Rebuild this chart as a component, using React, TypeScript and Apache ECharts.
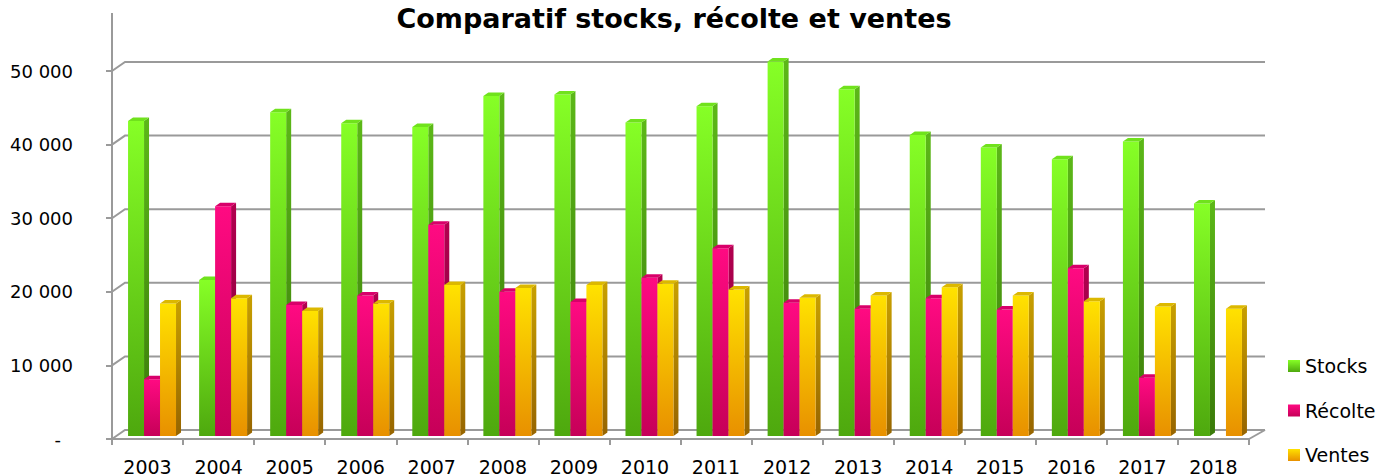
import React, { useEffect, useRef } from "react";
import * as echarts from "echarts";

const YEARS = ["2003","2004","2005","2006","2007","2008","2009","2010","2011","2012","2013","2014","2015","2016","2017","2018"];
const STOCKS = [42800, 21200, 44000, 42500, 42000, 46200, 46400, 42600, 44800, 50900, 47100, 40900, 39200, 37600, 40000, 31600];
const RECOLTE = [7700, 31200, 17800, 19100, 28700, 19600, 18200, 21500, 25500, 18100, 17300, 18700, 17200, 22800, 7900, null];
const VENTES = [18000, 18700, 17000, 18000, 20500, 20100, 20500, 20700, 19900, 18800, 19100, 20200, 19100, 18300, 17600, 17300];
const Y_TICKS = [0, 10000, 20000, 30000, 40000, 50000];
const SERIES_NAMES = ["Stocks", "Récolte", "Ventes"];

const FONT = "'DejaVu Sans', sans-serif";
const DEPTH_X = 13, DEPTH_Y = 9;
const MID_X = 4.5, MID_Y = 3;
const BAR_DX = 5, BAR_DY = 3.5;
const GRID_COLOR = "#9a9a9a";

const PALETTE = [
  { front: ["#86ff26", "#4ea80e"], side: ["#5cb818", "#3a7a0a"], top: "#70e21c" },
  { front: ["#ff0a82", "#c60058"], side: ["#b2004f", "#80003a"], top: "#d8006a" },
  { front: ["#ffe200", "#e89000"], side: ["#c8a000", "#966400"], top: "#dcb800" },
];

const grad = (c: string[]) =>
  new echarts.graphic.LinearGradient(0, 0, 0, 1, [
    { offset: 0, color: c[0] },
    { offset: 1, color: c[1] },
  ]);

const makeBarRender = (k: number) => (params: any, api: any) => {
  const idx = api.value(0);
  const v = api.value(1);
  if (v == null || isNaN(v)) return null;
  const base = api.coord([idx, 0]);
  const top = api.coord([idx, v]);
  const bw = api.size([1, 0])[0];
  const w = bw * 0.225;
  const x = base[0] - 1.5 * w + MID_X + k * w;
  const yb = base[1] - MID_Y;
  const yt = top[1] - MID_Y;
  const p = PALETTE[k];
  return {
    type: "group",
    children: [
      {
        type: "polygon",
        shape: { points: [[x + w, yt], [x + w + BAR_DX, yt - BAR_DY], [x + w + BAR_DX, yb - BAR_DY], [x + w, yb]] },
        style: { fill: grad(p.side) },
      },
      {
        type: "rect",
        shape: { x, y: yt, width: w, height: yb - yt },
        style: { fill: grad(p.front) },
      },
      {
        type: "polygon",
        shape: { points: [[x, yt], [x + BAR_DX, yt - BAR_DY], [x + w + BAR_DX, yt - BAR_DY], [x + w, yt]] },
        style: { fill: p.top },
      },
    ],
  };
};

const wallRender = (params: any, api: any) => {
  const cs = params.coordSys;
  const v = api.value(1);
  const y = api.coord([0, v])[1];
  const x0 = cs.x;
  const x1 = cs.x + cs.width;
  const st = { stroke: GRID_COLOR, lineWidth: 2, fill: "none" };
  const children: any[] = [
    { type: "polyline", shape: { points: [[x0, y], [x0 + DEPTH_X, y - DEPTH_Y], [x1 + DEPTH_X + 3, y - DEPTH_Y]] }, style: st },
  ];
  if (v === 0) {
    children.push({ type: "line", shape: { x1: x1 + DEPTH_X + 3, y1: y - DEPTH_Y, x2: x1, y2: y }, style: st });
    children.push({ type: "line", shape: { x1: x0, y1: cs.y - 58, x2: x0, y2: cs.y }, style: st });
  }
  return { type: "group", children };
};

export default function App() {
  const ref = useRef<HTMLDivElement>(null);
  useEffect(() => {
    document.body.style.margin = "0";
    const chart = echarts.init(ref.current!, null, { renderer: "svg" });
    const dataSets = [STOCKS, RECOLTE, VENTES];
    chart.setOption({
      animation: false,
      backgroundColor: "#ffffff",
      graphic: [
        {
          type: "text",
          x: 674,
          y: 5,
          style: {
            text: "Comparatif stocks, récolte et ventes",
            font: `bold 27px ${FONT}`,
            fill: "#000",
            align: "center",
            verticalAlign: "top",
          },
        },
      ],
      grid: { left: 112, top: 71, right: 134, bottom: 36, containLabel: false },
      legend: {
        orient: "vertical",
        left: 1283,
        top: 351,
        icon: "rect",
        itemWidth: 12,
        itemHeight: 12,
        itemGap: 24.5,
        textStyle: { fontFamily: FONT, fontSize: 19, color: "#000", lineHeight: 20 },
        data: SERIES_NAMES,
      },
      xAxis: {
        type: "category",
        data: YEARS,
        axisLine: { lineStyle: { color: GRID_COLOR, width: 2 } },
        axisTick: { show: true, length: 6, lineStyle: { color: GRID_COLOR, width: 2 } },
        axisLabel: { fontFamily: FONT, fontSize: 19, color: "#000", margin: 18 },
      },
      yAxis: {
        type: "value",
        min: 0,
        max: 50000,
        interval: 10000,
        axisLine: { show: true, lineStyle: { color: GRID_COLOR, width: 2 } },
        axisTick: { show: true, length: 6, lineStyle: { color: GRID_COLOR, width: 2 } },
        splitLine: { show: false },
        axisLabel: {
          fontFamily: FONT,
          fontSize: 18,
          color: "#000",
          margin: 39,
          formatter: (v: number) => (v === 0 ? "{z|-}" : `${v / 1000} 000`),
          rich: { z: { fontFamily: FONT, fontSize: 18, color: "#000", padding: [0, 12, 0, 0] } },
        },
      },
      series: [
        {
          type: "custom",
          name: "wall",
          silent: true,
          renderItem: wallRender,
          data: Y_TICKS.map((v) => [0, v]),
          encode: { x: 0, y: 1 },
          z: 1,
        },
        ...SERIES_NAMES.map((name, k) => ({
          type: "custom",
          name,
          renderItem: makeBarRender(k),
          data: dataSets[k].map((v, i) => [i, v == null ? NaN : v]),
          encode: { x: 0, y: 1 },
          itemStyle: { color: grad(PALETTE[k].front) },
          z: 2,
        })),
      ],
    });
    return () => chart.dispose();
  }, []);
  return <div ref={ref} style={{ width: 1383, height: 476 }} />;
}
